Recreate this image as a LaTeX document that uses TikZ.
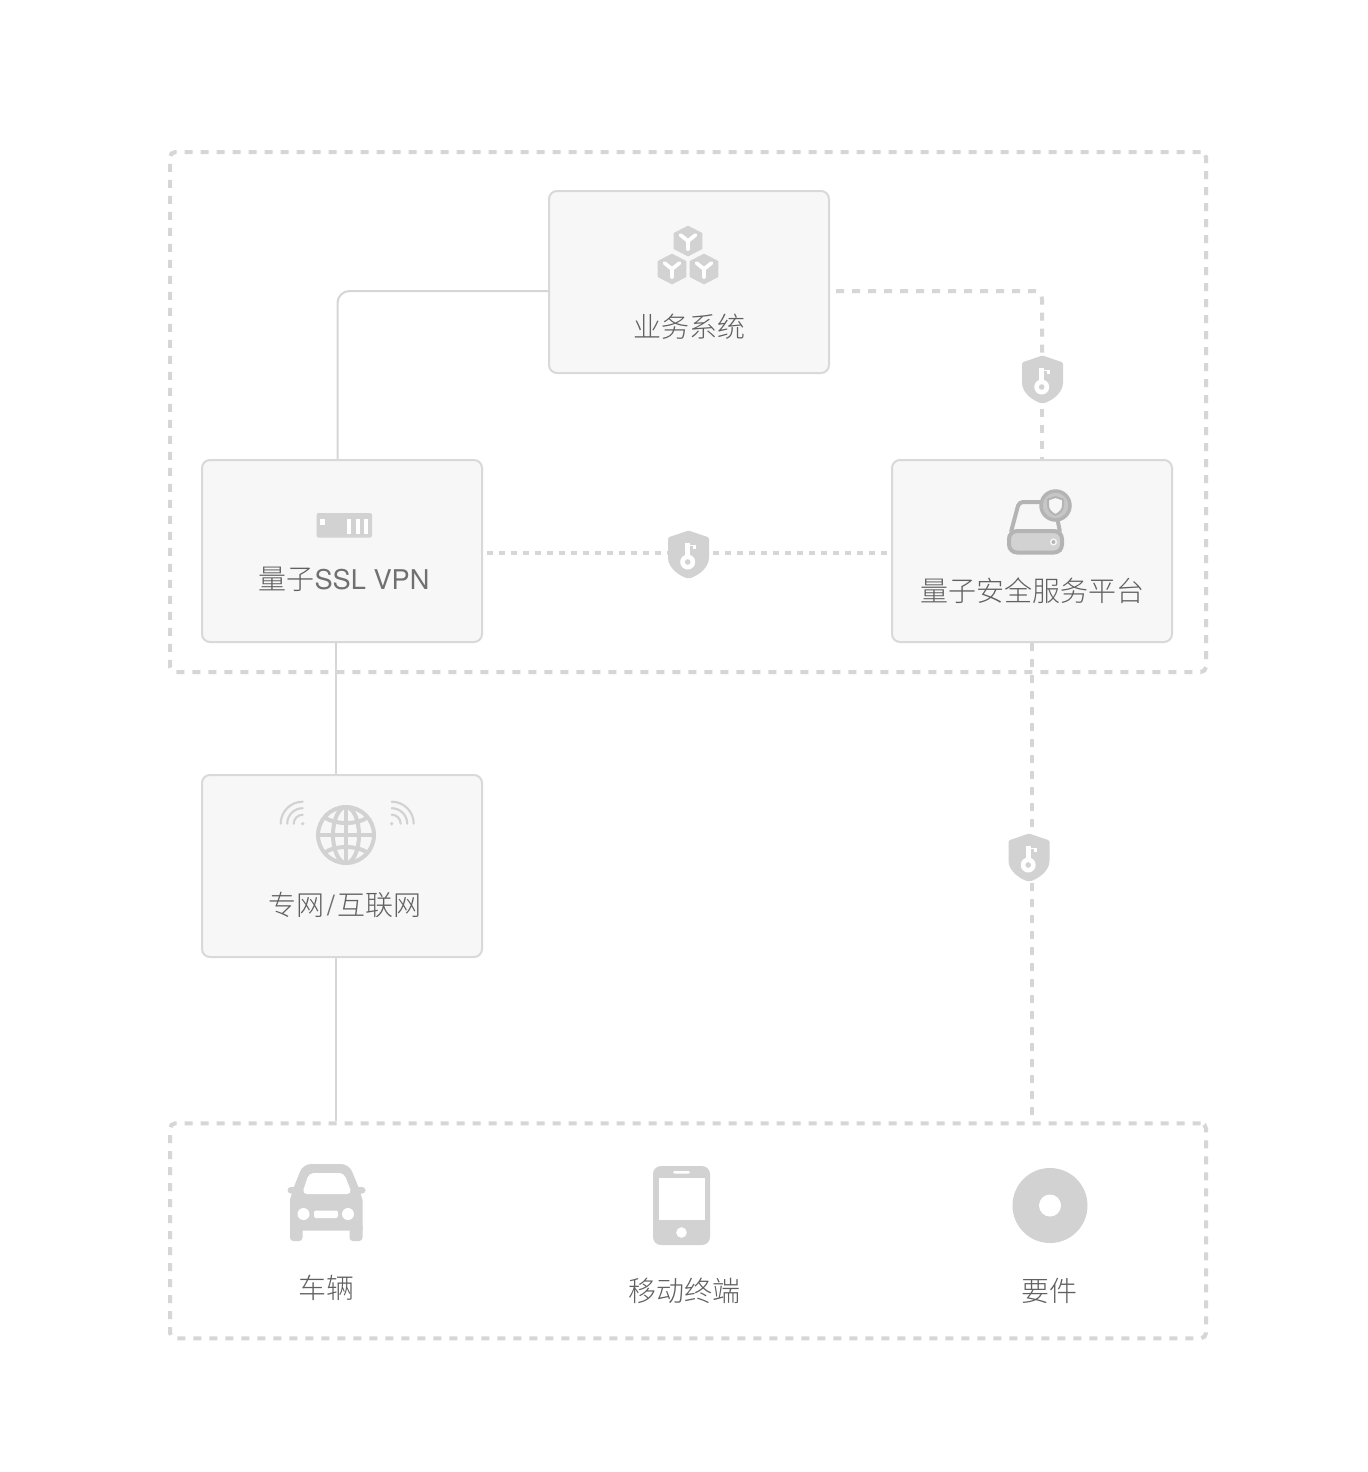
\documentclass[tikz,border=0pt]{standalone}
\usepackage{fontspec}
\usetikzlibrary{calc}
\setmainfont{TeX Gyre Heros}
\newfontfamily\cjk{Noto Sans CJK SC Light}
\definecolor{linegray}{HTML}{D6D6D6}
\definecolor{boxline}{HTML}{D9D9D9}
\definecolor{boxfill}{HTML}{F7F7F7}
\definecolor{icongray}{HTML}{D2D2D2}
\definecolor{drivegray}{HTML}{B4B4B4}
\definecolor{ringgray}{HTML}{C6C6C6}
\definecolor{labelgray}{HTML}{606060}
\definecolor{latingray}{HTML}{707070}
\tikzset{
  x=0.75pt,y=-0.75pt,
  card/.style={draw=boxline,fill=boxfill,line width=1.5pt,rounded corners=6pt,minimum width=210pt,minimum height=136.5pt,inner sep=0pt},
  zone/.style={draw=linegray,line width=3pt,rounded corners=4pt,dash pattern=on 6pt off 6pt,minimum width=777pt,inner sep=0pt},
  solidlink/.style={draw=linegray,line width=1.5pt},
  dashlink/.style={draw=linegray,line width=3pt,dash pattern=on 6pt off 6pt},
  dotlink/.style={draw=linegray,line width=3pt,dash pattern=on 4.5pt off 4.5pt},
  label/.style={text=labelgray,font=\cjk\fontsize{21pt}{25pt}\selectfont,inner sep=0pt},
  keybadge/.style={minimum width=31.5pt,minimum height=37.5pt,inner sep=0pt},
}
\newcommand{\keyshield}[2]{%
  \node[keybadge] (#1) at (#2) {};
  \begin{scope}[shift={(#2)}]
    \fill[icongray,rounded corners=1pt] (0,-24) -- (20.5,-17) -- (20.5,2)
      .. controls (20.5,14) and (8,22) .. (0,24)
      .. controls (-8,22) and (-20.5,14) .. (-20.5,2) -- (-20.5,-17) -- cycle;
    \fill[white] (-3.3,-11.5) rectangle (1.7,4);
    \fill[white] (1.7,-9.5) rectangle (7.5,-8.5);
    \fill[white] (4.5,-9.5) rectangle (7.5,-5.5);
    \fill[white] (-0.8,7.5) circle[radius=7.5];
    \fill[icongray] (-0.8,7.5) circle[radius=2.8];
  \end{scope}}
\newcommand{\hexcube}[1]{%
  \begin{scope}[shift={(#1)}]
    \fill[icongray,draw=icongray,line width=1.2pt,line join=round] (0,-14.5) -- (13.5,-7.5) -- (13.5,7.5) -- (0,14.5) -- (-13.5,7.5) -- (-13.5,-7.5) -- cycle;
    \draw[white,line width=2.8pt,line cap=round] (-7.5,-6) -- (0,0) -- (7.5,-6) (0,0) -- (0,8.5);
  \end{scope}}
\begin{document}
\begin{tikzpicture}
\useasboundingbox (0,0) rectangle (1368,1472);
\fill[white] (0,0) rectangle (1368,1472);
% zones
\node[zone,minimum height=390pt] (topzone) at (688,412) {};
\node[zone,minimum height=161.25pt] (botzone) at (688,1230.75) {};
% cards
\node[card] (biz) at (689,282) {};
\node[card] (vpn) at (342,551) {};
\node[card] (qss) at (1032,551) {};
\node[card] (net) at (342,866) {};
% key badges
\keyshield{ka}{1042.5,379.5}
\keyshield{kb}{688.5,554.5}
\keyshield{kc}{1029,857.5}
% connectors
\draw[solidlink,rounded corners=9pt] ($(biz.west)+(0,9)$) -| ($(vpn.north)+(-4.5,0)$);
\draw[solidlink] ($(vpn.south)+(-6.5,0)$) -- ($(net.north)+(-6.5,0)$);
\draw[solidlink] ($(net.south)+(-6.5,0)$) -- ($(botzone.north)+(-352.5,0)$);
\draw[dashlink,rounded corners=6pt] ($(biz.east)+(6,9)$) -| ($(ka.north)+(-0.5,0)$);
\draw[dashlink] ($(ka.south)+(-0.5,4.5)$) -- ($(qss.north)+(10,0)$);
\draw[dotlink] ($(vpn.east)+(4,2)$) -- ($(kb.west)+(0,-1.5)$);
\draw[dotlink] ($(kb.east)+(3,-1.5)$) -- ($(qss.west)+(-4,2)$);
\draw[dashlink] (qss.south) -- ($(kc.north)+(3,0)$);
\draw[dashlink] ($(kc.south)+(3,0)$) -- ($(botzone.north)+(344,0)$);
% cubes
\hexcube{688,241}
\hexcube{672,269}
\hexcube{704,269}
% server
\fill[icongray,rounded corners=1.5pt] (316.5,513) rectangle (372,537.5);
\fill[white] (320,519) rectangle (324.5,525);
\fill[white] (347,519) rectangle (351,533.5);
\fill[white] (356,519) rectangle (360,533.5);
\fill[white] (364,519) rectangle (368,533.5);
% drive
\draw[drivegray,line width=3pt,line join=round,rounded corners=3pt] (1011,532) -- (1019,502) -- (1054,502) -- (1060,532);
\fill[icongray] (1010,531) rectangle (1062,552);
\draw[drivegray,line width=3pt,rounded corners=6pt] (1009,531) rectangle (1062,552.5);
\draw[boxfill,fill=drivegray,line width=1pt] (1053.5,542) circle[radius=2.8];
\draw[drivegray,fill=ringgray,line width=2.6pt] (1055.5,505.5) circle[radius=14.5];
\draw[drivegray,fill=boxfill,line width=1.5pt,line join=round] (1055.5,497) -- (1063,499.5) -- (1063,505.5) .. controls (1063,510) and (1059.5,513) .. (1055.5,515) .. controls (1051.5,513) and (1048,510) .. (1048,505.5) -- (1048,499.5) -- cycle;
% globe
\begin{scope}[draw=icongray,line width=3pt]
\draw (346,835) circle[radius=28];
\draw (346,807) -- (346,863) (318,835) -- (374,835);
\draw (346,835) ellipse[x radius=13,y radius=28];
\draw (324,817) .. controls (335,825) and (357,825) .. (368,817);
\draw (324,853) .. controls (335,845) and (357,845) .. (368,853);
\end{scope}
% wifi
\begin{scope}[icongray,line width=1.6pt,line cap=round]
\fill (302.7,823.7) circle[radius=1.8];
\draw (302.7,814.7) arc[start angle=-90,end angle=-180,radius=9];
\draw (302.7,808.2) arc[start angle=-90,end angle=-180,radius=15.5];
\draw (302.7,801.7) arc[start angle=-90,end angle=-180,radius=22];
\fill (391.7,823.7) circle[radius=1.8];
\draw (391.7,814.7) arc[start angle=-90,end angle=0,radius=9];
\draw (391.7,808.2) arc[start angle=-90,end angle=0,radius=15.5];
\draw (391.7,801.7) arc[start angle=-90,end angle=0,radius=22];
\end{scope}
% car
\fill[icongray,rounded corners=2.5pt] (287.5,1187) rectangle (300,1193.5);
\fill[icongray,rounded corners=2.5pt] (352,1187) rectangle (365.5,1193.5);
\fill[icongray,rounded corners=2.5pt] (290,1222) rectangle (302.5,1241);
\fill[icongray,rounded corners=2.5pt] (349.5,1222) rectangle (362.5,1241);
\fill[icongray] (290,1230.5) -- (290,1200) [rounded corners=6pt] -- (292,1192) -- (303,1164) -- (349,1164) -- (360.5,1192) [sharp corners] -- (362.5,1200) -- (362.5,1230.5) -- cycle;
\fill[white,rounded corners=3.5pt] (309,1173) -- (344,1173) -- (352,1194) -- (302,1194) -- cycle;
\fill[white] (303.5,1214) circle[radius=6];
\fill[white] (348,1214) circle[radius=6];
\fill[white,rounded corners=1.5pt] (314,1210.5) rectangle (338,1218);
% phone
\fill[icongray,rounded corners=6pt] (653,1166) rectangle (710,1245);
\fill[white] (658.5,1178) rectangle (704.5,1220);
\fill[white,rounded corners=1pt] (673,1171) rectangle (690,1173.5);
\fill[white] (681.5,1232.5) circle[radius=5.3];
% disc
\fill[icongray] (1050,1205.5) circle[radius=37.5];
\fill[white] (1050,1205.5) circle[radius=11];
% labels
\node[label] (tbiz) at (689,326.5) {业务系统};
\node[label] (tvpn) at (344,579.5) {量子{\rmfamily\fontsize{20.4pt}{25pt}\selectfont\color{latingray}SSL VPN}};
\node[label] (tqss) at (1032,590.5) {量子安全服务平台};
\node[label] (tnet) at (345,904.5) {专网{\rmfamily\color{latingray}\kern2pt/\kern2pt}互联网};
\node[label] (tcar) at (326,1287.5) {车辆};
\node[label] (tmob) at (684,1290.5) {移动终端};
\node[label] (tele) at (1049,1290.5) {要件};
\end{tikzpicture}
\end{document}
